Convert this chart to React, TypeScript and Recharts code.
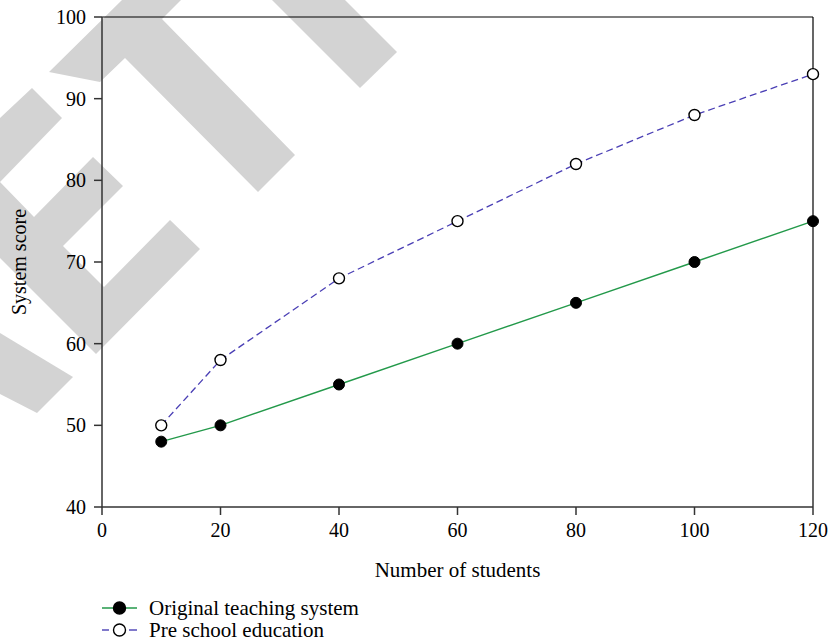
import React from 'react';
import { LineChart, Line, XAxis, YAxis, ReferenceLine, Legend } from 'recharts';

const students = [10, 20, 40, 60, 80, 100, 120];
const originalScores = [48, 50, 55, 60, 65, 70, 75];
const preSchoolScores = [50, 58, 68, 75, 82, 88, 93];
const xTicks = [0, 20, 40, 60, 80, 100, 120];
const yTicks = [40, 50, 60, 70, 80, 90, 100];
const seriesNames = ['Original teaching system', 'Pre school education'];

const data = students.map((s, i) => ({
    students: s,
    original: originalScores[i],
    preschool: preSchoolScores[i],
}));

const FONT = '"Liberation Serif", "Times New Roman", serif';
const GREEN = '#23994a';
const BLUE = '#4a3fb5';
const AXIS = '#333333';

// faint "retracted" watermark behind the chart
const watermark = [
    '122,0 181,0 162,19 295,155 258,192 125,58 100,82 49,72',
    '272,0 345,0 397,52 360,88',
    '0,118 32,88 62,118 0,182 34,217 93,157 123,186 63,246 104,287 170,220 200,249 96,354 0,258',
    '0,333 73,377 37,413 0,394',
];

const LegendContent = () => (
    <div style={{ fontFamily: FONT, fontSize: 21, color: '#000' }}>
        {seriesNames.map((name, i) => (
            <div key={name} style={{ display: 'flex', alignItems: 'center', height: 22 }}>
                <svg width={49} height={22} style={{ display: 'block' }}>
                    {i === 0 ? (
                        <line x1={2} y1={11} x2={37} y2={11} stroke={GREEN} strokeWidth={1.4} />
                    ) : (
                        <>
                            <line x1={2} y1={11} x2={9} y2={11} stroke={BLUE} strokeWidth={1.4} />
                            <line x1={29} y1={11} x2={37} y2={11} stroke={BLUE} strokeWidth={1.4} />
                        </>
                    )}
                    <circle cx={19.5} cy={11} r={6} fill={i === 0 ? '#000' : '#fff'} stroke="#000" strokeWidth={1.4} />
                </svg>
                <span style={{ lineHeight: '22px' }}>{name}</span>
            </div>
        ))}
    </div>
);

const App: React.FC = () => {
    return (
        <div style={{ position: 'absolute', left: 0, top: 0, width: 831, height: 643, background: '#fff' }}>
            <svg width={831} height={643} style={{ position: 'absolute', left: 0, top: 0 }}>
                {watermark.map((pts, i) => (
                    <polygon key={i} points={pts} fill="#d3d3d3" />
                ))}
            </svg>
            <div style={{ position: 'absolute', left: 0, top: 0 }}>
                <LineChart width={831} height={643} data={data} margin={{ top: 17, right: 18, bottom: 106, left: 0 }}>
                    <XAxis
                        dataKey="students"
                        type="number"
                        domain={[0, 120]}
                        ticks={xTicks}
                        height={30}
                        stroke={AXIS}
                        strokeWidth={1.5}
                        tickSize={8}
                        tickMargin={8}
                        tick={{ fill: '#000', fontSize: 20, fontFamily: FONT }}
                        label={({ viewBox }: any) => (
                            <text
                                x={viewBox.x + viewBox.width / 2}
                                y={577}
                                textAnchor="middle"
                                fontFamily={FONT}
                                fontSize={21}
                                fill="#000"
                            >
                                Number of students
                            </text>
                        )}
                    />
                    <YAxis
                        type="number"
                        domain={[40, 100]}
                        ticks={yTicks}
                        width={102}
                        stroke={AXIS}
                        strokeWidth={1.5}
                        tickSize={8}
                        tickMargin={8}
                        tick={{ fill: '#000', fontSize: 20, fontFamily: FONT }}
                        label={({ viewBox }: any) => (
                            <text
                                x={26}
                                y={viewBox.y + viewBox.height / 2}
                                transform={`rotate(-90, 26, ${viewBox.y + viewBox.height / 2})`}
                                textAnchor="middle"
                                fontFamily={FONT}
                                fontSize={20}
                                fill="#000"
                            >
                                System score
                            </text>
                        )}
                    />
                    <ReferenceLine y={100} stroke="#000" strokeWidth={1.2} />
                    <ReferenceLine x={120} stroke="#000" strokeWidth={1.2} />
                    <Legend
                        layout="vertical"
                        align="center"
                        verticalAlign="middle"
                        content={<LegendContent />}
                        wrapperStyle={{ left: 100, top: 597, width: 400, height: 44 }}
                    />
                    <Line
                        type="linear"
                        dataKey="original"
                        name={seriesNames[0]}
                        stroke={GREEN}
                        strokeWidth={1.4}
                        dot={{ r: 5.5, fill: '#000', stroke: '#000', strokeWidth: 1 }}
                        activeDot={false}
                        isAnimationActive={false}
                    />
                    <Line
                        type="linear"
                        dataKey="preschool"
                        name={seriesNames[1]}
                        stroke={BLUE}
                        strokeWidth={1.3}
                        strokeDasharray="7 4"
                        dot={{ r: 5.5, fill: '#fff', stroke: '#000', strokeWidth: 1.4, strokeDasharray: 'none' }}
                        activeDot={false}
                        isAnimationActive={false}
                    />
                </LineChart>
            </div>
        </div>
    );
};

export default App;
